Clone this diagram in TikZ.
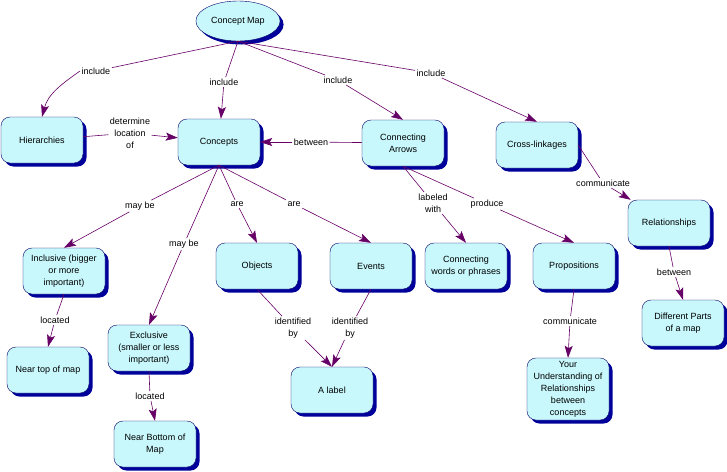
\documentclass[tikz,border=0pt]{standalone}
\usepackage{fontspec}
\setmainfont{Liberation Sans}
\usepackage{tikz}
\usetikzlibrary{shapes.geometric,shadows,arrows.meta}
\definecolor{boxfill}{HTML}{C8F8FC}
\definecolor{boxline}{HTML}{000066}
\definecolor{boxshadow}{HTML}{00009A}
\definecolor{linkcol}{HTML}{660066}
\newcommand*\mapfont{\fontsize{9}{12}\selectfont}
\tikzset{
    concept/.style    = {draw=boxline, fill=boxfill, rounded corners=9pt,
                        minimum width=82pt, minimum height=46pt, inner sep=3pt,
                        align=center, font=\mapfont,
                        drop shadow={shadow xshift=3.5pt, shadow yshift=-3.5pt,
                                     fill=boxshadow, opacity=1}},
    topconcept/.style = {concept, ellipse, sharp corners,
                        minimum width=80pt, minimum height=40pt},
    linkword/.style   = {fill=white, inner sep=1.5pt, align=center, font=\mapfont},
    link/.style       = {draw=linkcol, line width=0.6pt},
    linkarrow/.style  = {link, -{Stealth[length=12pt,width=8pt,inset=2.5pt]}},
  }

\begin{document}
\begin{tikzpicture}[x=1pt,y=1pt]
    \useasboundingbox (0,0) rectangle (727,-471);

    % top of the map
    \node (cmap) [topconcept] at (238,-21) {Concept Map};

    % row 1
    \node (hier)  [concept] at (42,-140)  {Hierarchies};
    \node (conc)  [concept] at (219,-142) {Concepts};
    \node (carr)  [concept] at (403,-143) {Connecting\\Arrows};
    \node (cross) [concept] at (537,-145) {Cross-linkages};
    \node (rel)   [concept] at (669,-223) {Relationships};
    % row 2
    \node (incl)   [concept] at (64,-271)  {Inclusive (bigger\\or more\\important)};
    \node (obj)    [concept] at (257,-266) {Objects};
    \node (evt)    [concept] at (371,-266) {Events};
    \node (cwords) [concept] at (466,-266) {Connecting\\words or phrases};
    \node (prop)   [concept] at (574,-266) {Propositions};
    \node (diff)   [concept] at (683,-323) {Different Parts\\of a map};
    % row 3
    \node (neartop) [concept] at (48,-370)  {Near top of map};
    \node (excl)    [concept] at (149,-348) {Exclusive\\(smaller or less\\important)};
    \node (alabel)  [concept] at (332,-390) {A label};
    \node (underst) [concept] at (568,-389) {Your\\Understanding of\\Relationships\\between\\concepts};
    % row 4
    \node (nearbot) [concept] at (155,-444) {Near Bottom of\\Map};

    % linking words
    \node (inc1)   [linkword] at (96,-71)   {include};
    \node (inc2)   [linkword] at (224,-82)  {include};
    \node (inc3)   [linkword] at (338,-80)  {include};
    \node (inc4)   [linkword] at (431,-73)  {include};
    \node (det)    [linkword] at (130,-133) {determine\\location\\of};
    \node (betw1)  [linkword] at (311,-142) {between};
    \node (may1)   [linkword] at (140,-206) {may be};
    \node (may2)   [linkword] at (184,-244) {may be};
    \node (are1)   [linkword] at (237,-204) {are};
    \node (are2)   [linkword] at (294,-204) {are};
    \node (lab)    [linkword] at (433,-203) {labeled\\with};
    \node (prod)   [linkword] at (487,-204) {produce};
    \node (comm1)  [linkword] at (603,-183) {communicate};
    \node (loc1)   [linkword] at (55,-320)  {located};
    \node (loc2)   [linkword] at (150,-396) {located};
    \node (ident1) [linkword] at (293,-328) {identified\\by};
    \node (ident2) [linkword] at (350,-328) {identified\\by};
    \node (comm2)  [linkword] at (570,-321) {communicate};
    \node (betw2)  [linkword] at (674,-272) {between};

    % links, each one through its linking word
    \foreach \src/\lbl/\dst in {cmap.south/inc2/conc, cmap.south/inc3/carr.north,
        cmap.south/inc4/cross.north, hier/det/conc, carr/betw1/conc,
        conc.south/may1/incl.north, conc.south/may2/excl.north,
        conc.south/are1/obj.north, conc.south/are2/evt.north,
        carr.south/lab/cwords.north, carr.south/prod/prop.north,
        cross.east/comm1/rel, incl.south/loc1/neartop.north,
        excl.south/loc2/nearbot.north, obj.south/ident1/alabel.north,
        evt.south/ident2/alabel.north, prop.south/comm2/underst.north,
        rel.south/betw2/diff.north} {
        \draw[link] (\src) -- (\lbl);
        \draw[linkarrow] (\lbl) -- (\dst);
    }

    % the one curved link, down to Hierarchies
    \draw[link] (cmap.south) -- (inc1);
    \draw[linkarrow] (inc1.west) to[out=215,in=75] (hier.north);
\end{tikzpicture}
\end{document}
